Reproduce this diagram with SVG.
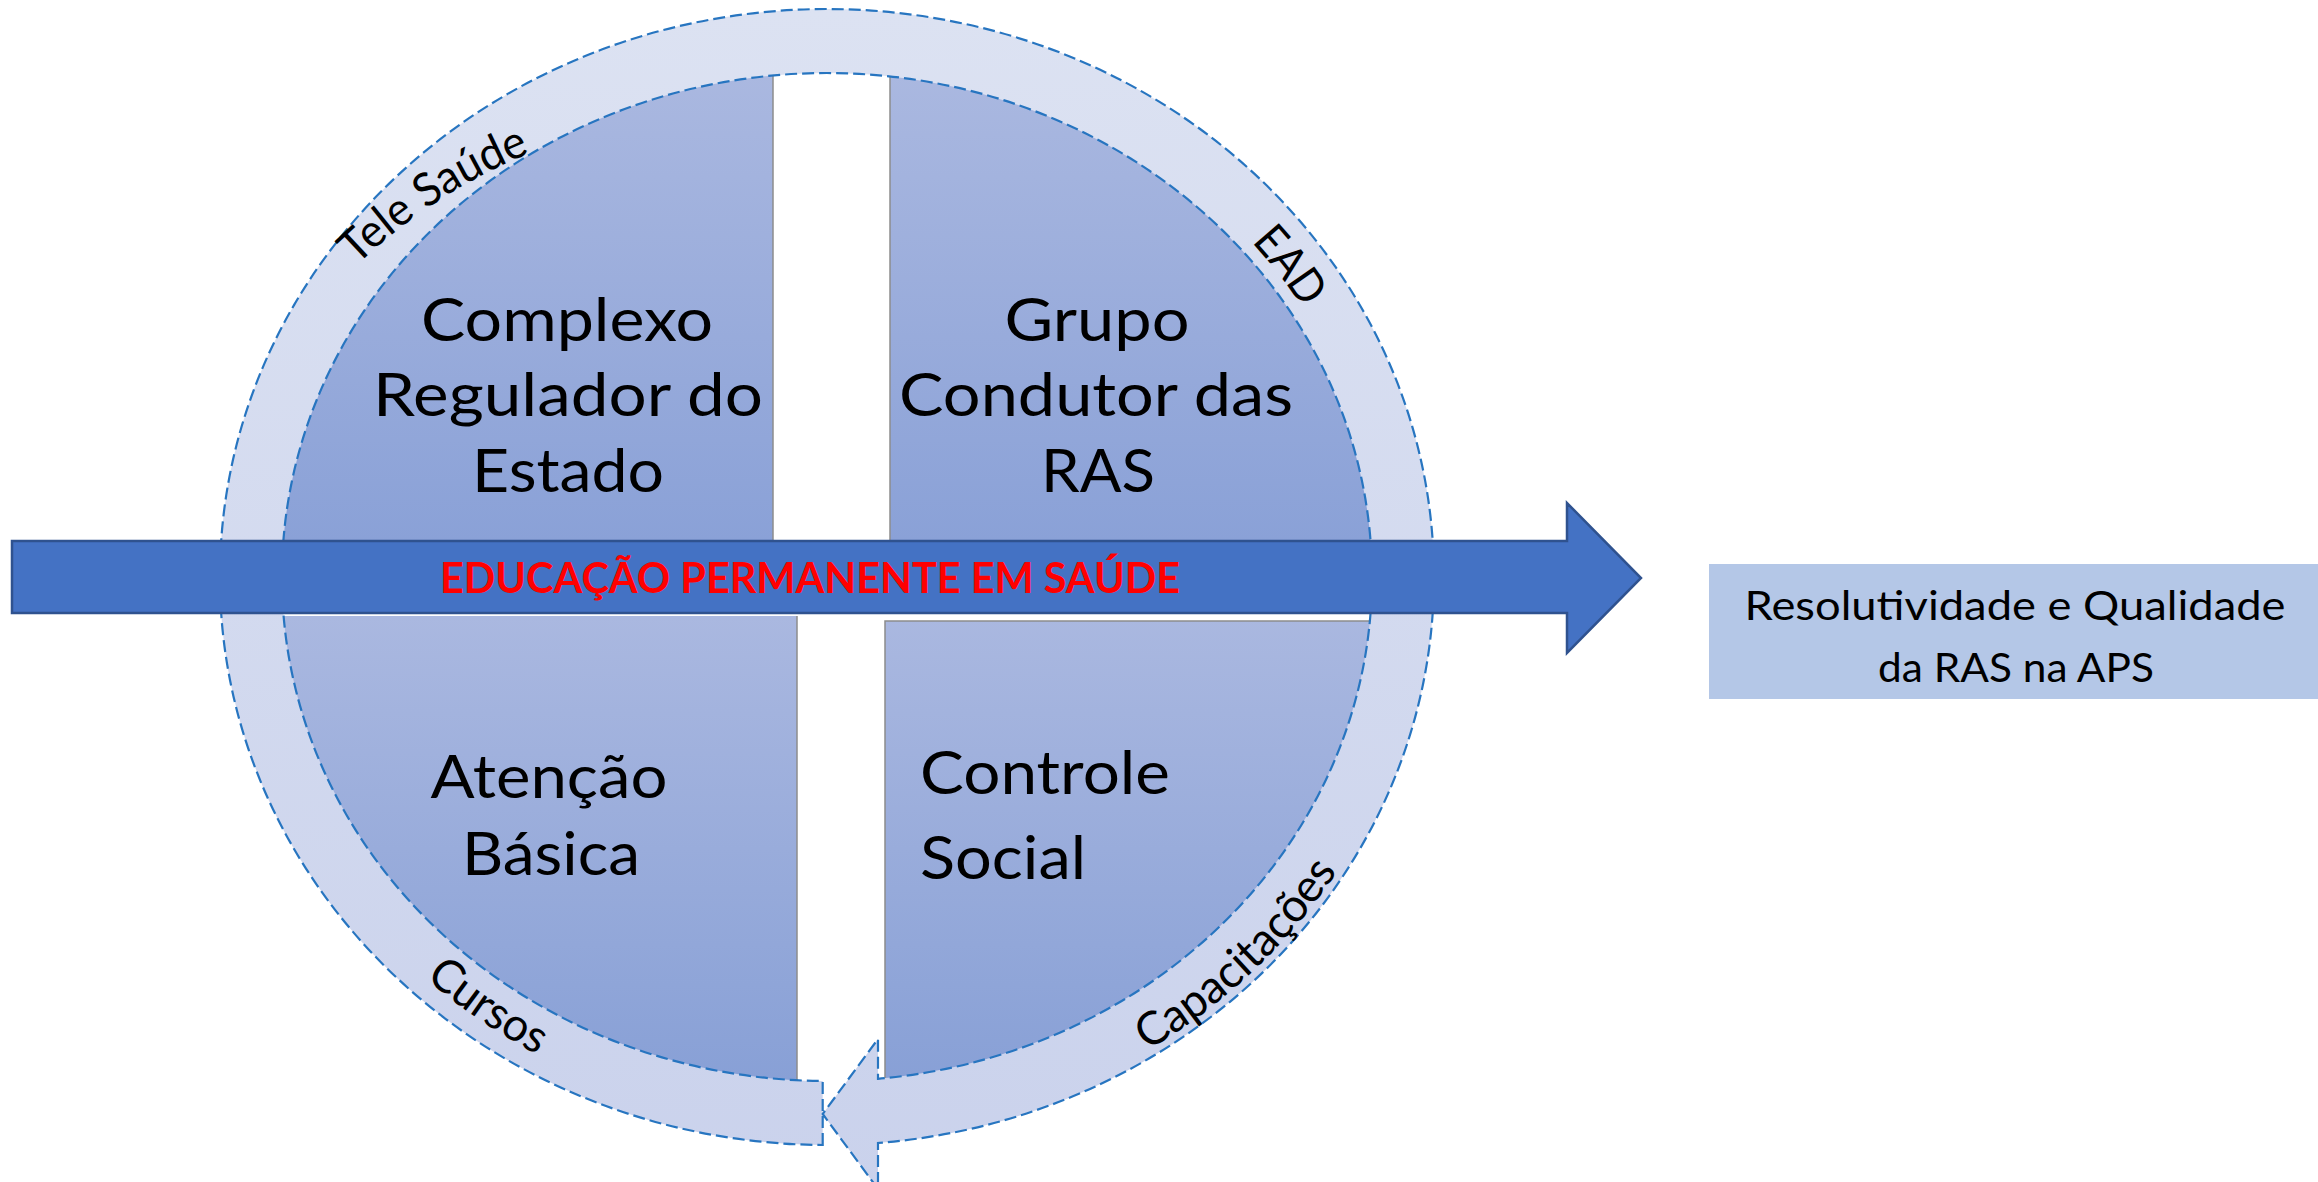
<svg xmlns="http://www.w3.org/2000/svg" width="2318" height="1182" viewBox="0 0 2318 1182">
  <style>
    text { font-family: Lato, "Liberation Sans", sans-serif; fill: #000; }
    .q { font-size: 60px; }
    .ring-lbl { font-size: 46px; }
    .main-txt { font-size: 42px; font-weight: 700; fill: #FF0000; }
    .res { font-size: 40px; }
    .edge { stroke: #8C8C8C; stroke-width: 1.5; fill: none; }
  </style>
  <defs>
    <linearGradient id="gTop" gradientUnits="userSpaceOnUse" x1="0" y1="75" x2="0" y2="541">
      <stop offset="0" stop-color="#AAB8E0"/>
      <stop offset="1" stop-color="#8AA1D7"/>
    </linearGradient>
    <linearGradient id="gBot" gradientUnits="userSpaceOnUse" x1="0" y1="616" x2="0" y2="1081">
      <stop offset="0" stop-color="#AAB8E0"/>
      <stop offset="1" stop-color="#88A0D6"/>
    </linearGradient>
    <linearGradient id="gRing" x1="0" y1="0" x2="0" y2="1">
      <stop offset="0" stop-color="#DCE2F2"/>
      <stop offset="1" stop-color="#CAD2EC"/>
    </linearGradient>
    <clipPath id="inner">
      <ellipse cx="827" cy="577" rx="549" ry="508"/>
    </clipPath>
    <path id="pTele" d="M 274.1 367.8 A 540 540 0 0 1 656.8 119.2"/>
    <path id="pEAD" d="M 971.2 77.6 A 557 517 0 0 1 1381.9 622.1"/>
    <path id="pCursos" d="M 253.1 700.5 A 590 550 0 0 0 857.8 1125.2"/>
    <path id="pCap" d="M 889.6 1134.0 A 600 560 0 0 0 1425.5 616.1"/>
  </defs>

  <g id="quadrant-complexo">
    <rect x="260" y="50" width="513" height="510" fill="url(#gTop)" clip-path="url(#inner)"/>
    <line class="edge" x1="773" y1="76" x2="773" y2="541"/>
    <text class="q" x="567" y="341" text-anchor="middle" textLength="292" lengthAdjust="spacingAndGlyphs">Complexo</text>
    <text class="q" x="568" y="416" text-anchor="middle" textLength="390" lengthAdjust="spacingAndGlyphs">Regulador do</text>
    <text class="q" x="568" y="492" text-anchor="middle" textLength="192" lengthAdjust="spacingAndGlyphs">Estado</text>
  </g>

  <g id="quadrant-grupo">
    <rect x="890" y="50" width="510" height="510" fill="url(#gTop)" clip-path="url(#inner)"/>
    <line class="edge" x1="890" y1="76" x2="890" y2="541"/>
    <text class="q" x="1097" y="341" text-anchor="middle" textLength="185" lengthAdjust="spacingAndGlyphs">Grupo</text>
    <text class="q" x="1096" y="416" text-anchor="middle" textLength="394" lengthAdjust="spacingAndGlyphs">Condutor das</text>
    <text class="q" x="1098" y="492" text-anchor="middle" textLength="114" lengthAdjust="spacingAndGlyphs">RAS</text>
  </g>

  <g id="quadrant-atencao">
    <rect x="260" y="616" width="537" height="490" fill="url(#gBot)" clip-path="url(#inner)"/>
    <line class="edge" x1="797" y1="616" x2="797" y2="1081"/>
    <text class="q" x="549" y="798" text-anchor="middle" textLength="237" lengthAdjust="spacingAndGlyphs">Atenção</text>
    <text class="q" x="551" y="875" text-anchor="middle" textLength="178" lengthAdjust="spacingAndGlyphs">Básica</text>
  </g>

  <g id="quadrant-controle">
    <rect x="885" y="621" width="515" height="485" fill="url(#gBot)" clip-path="url(#inner)"/>
    <path class="edge" d="M 885 1080 L 885 621 L 1372 621"/>
    <text class="q" x="920" y="794" textLength="250" lengthAdjust="spacingAndGlyphs">Controle</text>
    <text class="q" x="920" y="879" textLength="166" lengthAdjust="spacingAndGlyphs">Social</text>
  </g>

  <g id="cycle-ring">
    <path d="M 822.7 1145 L 822.7 1081 A 545 504 0 1 1 878 1078.8 L 878 1039 L 822.7 1114 L 878 1189 L 878 1143 A 607 568 0 1 0 822.7 1145 Z" fill="url(#gRing)" stroke="#2775C0" stroke-width="2.2" stroke-dasharray="12 5"/>
    <text class="ring-lbl"><textPath href="#pTele" startOffset="50%" text-anchor="middle" textLength="208" lengthAdjust="spacingAndGlyphs">Tele Saúde</textPath></text>
    <text class="ring-lbl"><textPath href="#pEAD" startOffset="50%" text-anchor="middle" textLength="84" lengthAdjust="spacingAndGlyphs">EAD</textPath></text>
    <text class="ring-lbl"><textPath href="#pCursos" startOffset="50%" text-anchor="middle" textLength="136" lengthAdjust="spacingAndGlyphs">Cursos</textPath></text>
    <text class="ring-lbl"><textPath href="#pCap" startOffset="50%" text-anchor="middle" textLength="264" lengthAdjust="spacingAndGlyphs">Capacitações</textPath></text>
  </g>

  <g id="connectors">
    <g id="main-arrow">
      <path d="M 12 541 L 1567 541 L 1567 503 L 1641 578 L 1567 653 L 1567 613 L 12 613 Z" fill="#4472C4" stroke="#2F528F" stroke-width="2.5"/>
      <text class="main-txt" x="810" y="593" text-anchor="middle" textLength="740" lengthAdjust="spacingAndGlyphs">EDUCAÇÃO PERMANENTE EM SAÚDE</text>
    </g>
  </g>

  <g id="result">
    <rect x="1709" y="564" width="609" height="135" fill="#B4C7E7"/>
    <text class="res" x="2015" y="620" text-anchor="middle" textLength="541" lengthAdjust="spacingAndGlyphs">Resolutividade e Qualidade</text>
    <text class="res" x="2016" y="682" text-anchor="middle" textLength="276" lengthAdjust="spacingAndGlyphs">da RAS na APS</text>
  </g>
</svg>
